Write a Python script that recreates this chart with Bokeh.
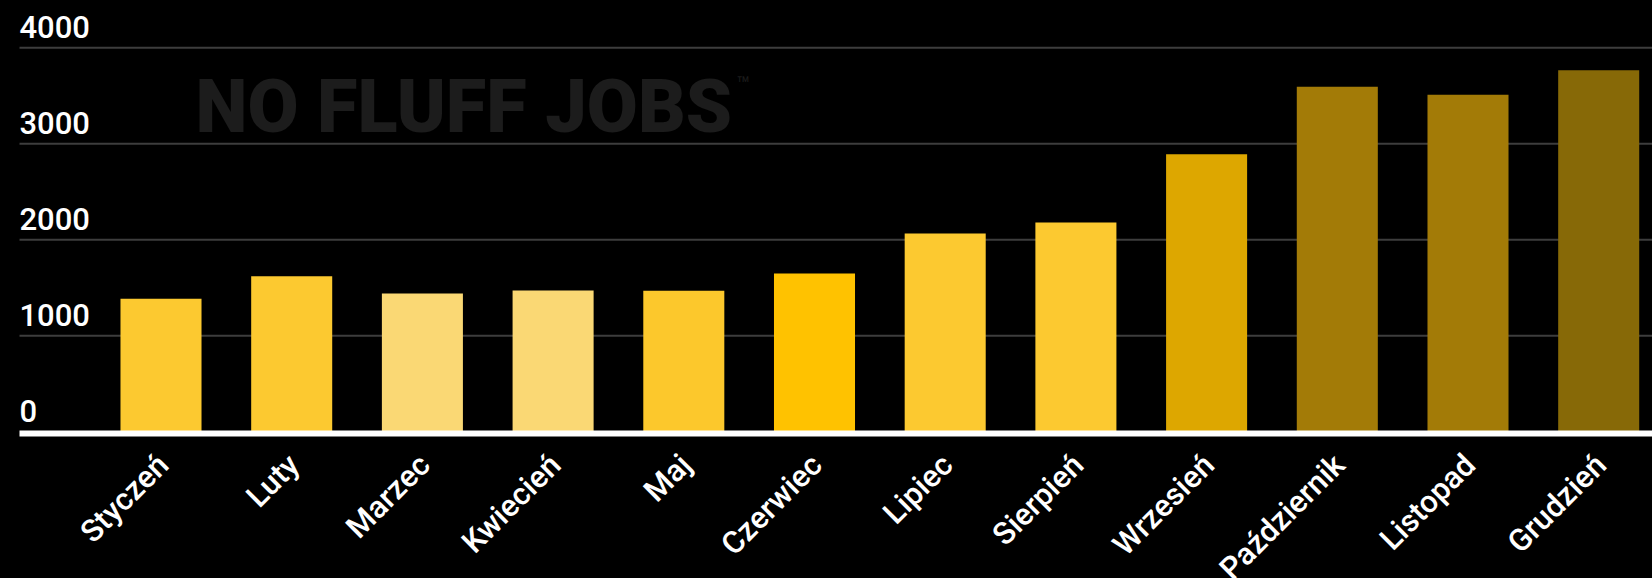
import math
from bokeh.plotting import figure
from bokeh.models import Range1d, Grid, Label, ColumnDataSource
from bokeh.core.properties import value
from bokeh.embed import file_html
from bokeh.resources import INLINE

# ---- data ----
months = ["Styczeń", "Luty", "Marzec", "Kwiecień", "Maj", "Czerwiec",
          "Lipiec", "Sierpień", "Wrzesień", "Październik", "Listopad", "Grudzień"]
counts = [1387, 1620, 1440, 1472, 1470, 1648, 2065, 2180, 2890, 3595, 3510, 3765]
colors = ["#FCC930", "#FCC930", "#FAD874", "#FAD874", "#FCC82C", "#FFC200",
          "#FCC930", "#FCC930", "#DDA700", "#A37B07", "#A37B07", "#876907"]
y_ticks = [0, 1000, 2000, 3000, 4000]
grid_ticks = [1000, 2000, 3000, 4000]

# ---- layout (pixel geometry; the frame covers the whole canvas) ----
W, H = 1652, 578
PLOT_L = 19            # px where gridlines / baseline start
PPU = 130.7            # px per category
FIRST_C = 160.5        # px of first bar centre
ZERO_PX = 431.3        # px (from top) of value 0
PPV = 0.096            # px per unit value

x_start = -FIRST_C / PPU
x_end = x_start + W / PPU
y_start = -(H - ZERO_PX) / PPV
y_end = ZERO_PX / PPV


def px_x(px):
    return x_start + px / PPU


def px_y(py):
    return (ZERO_PX - py) / PPV


LABEL_FONT = "'Roboto Medium', Roboto"

p = figure(width=W, height=H, output_backend="svg", toolbar_location=None,
           x_range=Range1d(x_start, x_end), y_range=Range1d(y_start, y_end),
           x_axis_location=None, y_axis_location=None, min_border=0)
p.background_fill_color = "#000000"
p.border_fill_color = "#000000"
p.outline_line_color = None
p.center = [r for r in p.center if not isinstance(r, Grid)]

# value gridlines
n = len(grid_ticks)
p.segment(x0=[px_x(PLOT_L)] * n, y0=grid_ticks, x1=[x_end] * n, y1=grid_ticks,
          line_color="#3d3d3d", line_width=2)

src = ColumnDataSource(dict(x=list(range(len(months))), top=counts, color=colors))
p.vbar(x="x", top="top", width=0.62, bottom=0, fill_color="color",
       line_color=None, source=src)

# white baseline (x axis line)
p.segment(x0=[px_x(PLOT_L)], y0=[px_y(433)], x1=[x_end], y1=[px_y(433)],
          line_color="#ffffff", line_width=6)

# y labels above gridlines
ysrc = ColumnDataSource(dict(x=[px_x(19)] * len(y_ticks), y=y_ticks,
                             t=[str(v) for v in y_ticks]))
p.text(x="x", y="y", text="t", source=ysrc, text_color="#ffffff",
       text_font=value(LABEL_FONT), text_font_size="31px",
       text_align="left", text_baseline="alphabetic", y_offset=-21)

# x labels, rotated 45 degrees, ending under each bar
xsrc = ColumnDataSource(dict(x=[i - 11 / PPU for i in range(len(months))],
                             y=[px_y(446)] * len(months), t=months))
p.text(x="x", y="y", text="t", source=xsrc, angle=math.pi / 4,
       text_color="#ffffff", text_font=value(LABEL_FONT),
       text_font_size="31px", text_align="right", text_baseline="top")

# watermark
p.add_layout(Label(x=px_x(195), y=px_y(106), text="NO FLUFF JOBS",
                   text_font="'Roboto Black', Roboto", text_font_style="bold",
                   text_font_size="74px", text_color="#1c1c1c",
                   text_align="left", text_baseline="alphabetic",
                   level="underlay"))
p.add_layout(Label(x=px_x(736), y=px_y(84), text="™",
                   text_font="Roboto", text_font_size="22px",
                   text_color="#1c1c1c", text_align="left",
                   text_baseline="alphabetic", level="underlay"))

html = file_html(p, INLINE)
html = html.replace("</head>",
                    "<style>html,body{margin:0;padding:0;background:#000;}</style></head>", 1)
open("out.html", "w").write(html)
